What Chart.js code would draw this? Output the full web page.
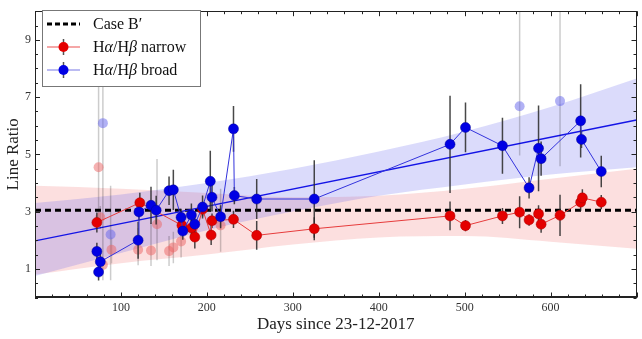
<!DOCTYPE html>
<html>
<head>
<meta charset="utf-8">
<script src="https://cdn.jsdelivr.net/npm/chart.js@4.4.1/dist/chart.umd.min.js"></script>
<style>
  html, body { margin: 0; padding: 0; background: #fff; }
  #wrap { width: 642px; height: 339px; }
</style>
</head>
<body>
<div id="wrap"><canvas id="chart" width="642" height="339"></canvas></div>
<script>
// axis range and labelled ticks
var xRange = [0, 700];
var yRange = [0, 10];
var xTickLabels = [100, 200, 300, 400, 500, 600];
var yTickLabels = [1, 3, 5, 7, 9];

// Case B' decrement
var caseB = 3.05;

// Ha/Hb narrow (used in fit)
var narrowDays  = [72, 122, 171, 182, 186, 195, 205, 206, 231, 258, 325, 483, 501, 544, 564, 575, 586, 589, 611, 635, 637, 659];
var narrowRatio = [2.62, 3.31, 2.52, 2.43, 2.11, 3.08, 2.18, 2.68, 2.73, 2.17, 2.40, 2.85, 2.51, 2.85, 2.98, 2.71, 2.92, 2.56, 2.87, 3.33, 3.48, 3.33];
var narrowErr   = [0.35, 0.35, 0.3, 0.3, 0.4, 0.25, 0.35, 0.25, 0.3, 0.5, 0.4, 0.5, 0.2, 0.28, 0.56, 0.2, 0.3, 0.3, 0.72, 0.3, 0.3, 0.25];

// Ha/Hb broad (used in fit)
var broadDays  = [72, 74, 76, 120, 121, 135, 141, 156, 161, 170, 172, 182, 186, 195, 204, 206, 216, 231, 232, 258, 325, 483, 501, 544, 575, 586, 589, 635, 636, 659];
var broadRatio = [1.61, 0.89, 1.25, 2.0, 2.99, 3.22, 3.05, 3.73, 3.76, 2.8, 2.32, 2.88, 2.56, 3.16, 4.06, 3.5, 2.82, 5.89, 3.56, 3.44, 3.44, 5.35, 5.94, 5.3, 3.83, 5.21, 4.85, 6.17, 5.52, 4.4];
var broadErr   = [0.3, 0.3, 0.3, 0.65, 0.3, 0.65, 0.5, 0.5, 0.7, 0.3, 0.3, 0.4, 0.4, 0.4, 1.07, 0.5, 0.4, 0.8, 0.3, 0.7, 1.35, 1.7, 0.87, 0.98, 0.37, 1.5, 0.6, 1.28, 0.3, 0.55];

// excluded (faded) points, error bars as low / high bounds
var fadedNarrowDays  = [74, 76, 79, 89, 120, 135, 142, 156, 161, 170, 216];
var fadedNarrowRatio = [4.55, 2.8, 1.14, 1.67, 1.67, 1.64, 2.56, 1.62, 1.75, 1.96, 2.52];
var fadedNarrowLo    = [2.55, 2.4, 0.8, 1.2, 1.13, 1.1, 1.3, 1.1, 1.2, 1.4, 1.6];
var fadedNarrowHi    = [10.5, 3.2, 1.5, 2.1, 2.43, 2.6, 4.84, 2.15, 2.3, 2.55, 3.8];
var fadedBroadDays  = [79, 88, 564, 611];
var fadedBroadRatio = [6.09, 2.2, 6.68, 6.86];
var fadedBroadLo    = [0.6, 0.6, 4.96, 4.58];
var fadedBroadHi    = [10.5, 3.9, 10.5, 10.5];

// linear fits: broad line and confidence bands
var fitDays     = [0, 700];
var broadFit    = [1.98, 6.2];
var bandDays    = [0, 100, 200, 300, 400, 500, 600, 700];
var broadBandHi = [3.3, 3.6, 4.0, 4.5, 5.1, 5.8, 6.65, 7.65];
var broadBandLo = [0.75, 1.55, 2.35, 3.0, 3.55, 3.95, 4.3, 4.55];
var narrowBandHi = [3.9, 3.8, 3.65, 3.5, 3.55, 3.8, 4.15, 4.5];
var narrowBandLo = [0.8, 1.2, 1.5, 1.85, 2.1, 2.15, 1.95, 1.7];

var RED = 'rgb(228,0,0)';
var BLUE = 'rgb(0,0,228)';
var SERIF = '"Liberation Serif", "Times New Roman", serif';

function pts(xs, ys) {
  return xs.map(function (x, i) { return { x: x, y: ys[i] }; });
}
function bars(xs, lo, hi) {
  var out = [];
  xs.forEach(function (x, i) {
    out.push({ x: x, y: lo[i] }, { x: x, y: hi[i] }, { x: x, y: null });
  });
  return out;
}
function shift(ys, err, sign) {
  return ys.map(function (y, i) { return y + sign * err[i]; });
}

Chart.defaults.font.family = SERIF;
Chart.defaults.color = '#222';

// inward ticks on all four sides plus the frame
var frameTicks = {
  id: 'frameTicks',
  afterDraw: function (chart) {
    var ctx = chart.ctx, a = chart.chartArea;
    var xs = chart.scales.x, ys = chart.scales.y;
    ctx.save();
    ctx.strokeStyle = '#222';
    ctx.lineWidth = 1;
    ctx.beginPath();
    xs.ticks.forEach(function (t) {
      var px = Math.round(xs.getPixelForValue(t.value)) + 0.5;
      var len = t.value % 100 === 0 ? 5 : 3;
      ctx.moveTo(px, a.bottom); ctx.lineTo(px, a.bottom - len);
      ctx.moveTo(px, a.top); ctx.lineTo(px, a.top + len);
    });
    ys.ticks.forEach(function (t) {
      var py = Math.round(ys.getPixelForValue(t.value)) + 0.5;
      var len = yTickLabels.indexOf(t.value) >= 0 ? 5 : 3;
      ctx.moveTo(a.left, py); ctx.lineTo(a.left + len, py);
      ctx.moveTo(a.right, py); ctx.lineTo(a.right - len, py);
    });
    ctx.stroke();
    ctx.strokeRect(Math.round(a.left) + 0.5, Math.round(a.top) + 0.5,
      Math.round(a.right - a.left) - 1, Math.round(a.bottom - a.top) - 1);
    ctx.restore();
  }
};

// legend box in the top-left corner
var legendBox = {
  id: 'legendBox',
  afterDraw: function (chart) {
    var ctx = chart.ctx;
    var x0 = 42, y0 = 10, w = 158, h = 76;
    ctx.save();
    ctx.fillStyle = '#fff';
    ctx.fillRect(x0, y0, w, h);
    ctx.strokeStyle = '#777';
    ctx.lineWidth = 1;
    ctx.strokeRect(x0 + 0.5, y0 + 0.5, w, h);

    var rows = [24, 47, 70];
    // Case B'
    ctx.strokeStyle = '#000';
    ctx.lineWidth = 3;
    ctx.setLineDash([5, 3]);
    ctx.beginPath(); ctx.moveTo(47, rows[0]); ctx.lineTo(80, rows[0]); ctx.stroke();
    ctx.setLineDash([]);

    function sample(y, line, dot) {
      ctx.strokeStyle = line; ctx.lineWidth = 1.2;
      ctx.beginPath(); ctx.moveTo(47, y); ctx.lineTo(80, y); ctx.stroke();
      ctx.strokeStyle = 'rgba(40,40,40,0.8)'; ctx.lineWidth = 1.5;
      ctx.beginPath(); ctx.moveTo(63.5, y - 8); ctx.lineTo(63.5, y + 8); ctx.stroke();
      ctx.fillStyle = dot;
      ctx.beginPath(); ctx.arc(63.5, y, 5, 0, Math.PI * 2); ctx.fill();
    }
    sample(rows[1], 'rgb(235,80,80)', RED);
    sample(rows[2], 'rgb(120,120,230)', BLUE);

    ctx.fillStyle = '#111';
    ctx.textBaseline = 'middle';
    function rich(parts, x, y) {
      parts.forEach(function (p) {
        ctx.font = (p[1] ? 'italic ' : '') + '16px ' + SERIF;
        ctx.fillText(p[0], x, y);
        x += ctx.measureText(p[0]).width;
      });
    }
    rich([['Case B\u2032', 0]], 93, rows[0] + 1);
    rich([['H', 0], ['\u03b1', 1], ['/H', 0], ['\u03b2', 1], [' narrow', 0]], 93, rows[1] + 1);
    rich([['H', 0], ['\u03b1', 1], ['/H', 0], ['\u03b2', 1], [' broad', 0]], 93, rows[2] + 1);
    ctx.restore();
  }
};

var band = { pointRadius: 0, borderWidth: 0, cubicInterpolationMode: 'monotone' };

var datasets = [
  Object.assign({ label: 'narrow band hi', data: pts(bandDays, narrowBandHi), fill: '+1',
    backgroundColor: 'rgba(240,80,80,0.18)', order: 10 }, band),
  Object.assign({ label: 'narrow band lo', data: pts(bandDays, narrowBandLo), fill: false, order: 10 }, band),
  Object.assign({ label: 'broad band hi', data: pts(bandDays, broadBandHi), fill: '+1',
    backgroundColor: 'rgba(90,90,235,0.22)', order: 9 }, band),
  Object.assign({ label: 'broad band lo', data: pts(bandDays, broadBandLo), fill: false, order: 9 }, band),
  { label: 'Case B\u2032', data: pts(xRange, [caseB, caseB]), borderColor: '#000', borderWidth: 3,
    borderDash: [6, 4], pointRadius: 0, order: 8 },
  { label: 'broad fit', data: pts(fitDays, broadFit), borderColor: 'rgb(20,20,230)', borderWidth: 1.3,
    pointRadius: 0, order: 7 },
  { label: 'faded err', data: bars(fadedNarrowDays, fadedNarrowLo, fadedNarrowHi)
      .concat(bars(fadedBroadDays, fadedBroadLo, fadedBroadHi)),
    borderColor: 'rgba(0,0,0,0.2)', borderWidth: 1.5, pointRadius: 0, spanGaps: false, order: 6 },
  { label: 'faded narrow', data: pts(fadedNarrowDays, fadedNarrowRatio), showLine: false,
    pointRadius: 5, pointBackgroundColor: 'rgba(235,100,100,0.5)', pointBorderWidth: 0, order: 5 },
  { label: 'faded broad', data: pts(fadedBroadDays, fadedBroadRatio), showLine: false,
    pointRadius: 5, pointBackgroundColor: 'rgba(100,100,235,0.5)', pointBorderWidth: 0, order: 5 },
  { label: 'narrow err', data: bars(narrowDays, shift(narrowRatio, narrowErr, -1), shift(narrowRatio, narrowErr, 1)),
    borderColor: 'rgba(40,40,40,0.85)', borderWidth: 1.5, pointRadius: 0, spanGaps: false, order: 4 },
  { label: 'broad err', data: bars(broadDays, shift(broadRatio, broadErr, -1), shift(broadRatio, broadErr, 1)),
    borderColor: 'rgba(40,40,40,0.85)', borderWidth: 1.5, pointRadius: 0, spanGaps: false, order: 4 },
  { label: 'H\u03b1/H\u03b2 narrow', data: pts(narrowDays, narrowRatio), borderColor: 'rgb(230,60,60)',
    borderWidth: 1, pointRadius: 5, pointBackgroundColor: RED, pointBorderColor: 'rgb(170,0,0)',
    pointBorderWidth: 0.5, order: 3 },
  { label: 'H\u03b1/H\u03b2 broad', data: pts(broadDays, broadRatio), borderColor: 'rgb(50,50,220)',
    borderWidth: 1, pointRadius: 5, pointBackgroundColor: BLUE, pointBorderColor: 'rgb(0,0,150)',
    pointBorderWidth: 0.5, order: 2 }
];

new Chart(document.getElementById('chart'), {
  type: 'scatter',
  data: { datasets: datasets.map(function (d) { d.showLine = d.showLine !== false; return d; }) },
  options: {
    responsive: false,
    animation: false,
    events: [],
    layout: { padding: { top: 3, right: 1, left: 0, bottom: 0 } },
    plugins: { legend: { display: false }, tooltip: { enabled: false } },
    scales: {
      x: {
        type: 'linear', min: xRange[0], max: xRange[1], offset: false,
        grid: { display: false, drawTicks: false },
        border: { display: true, color: '#222' },
        ticks: {
          stepSize: 20, autoSkip: false, maxRotation: 0, padding: 3,
          font: { size: 12 }, color: '#333',
          callback: function (v) { return xTickLabels.indexOf(v) >= 0 ? String(v) : ''; }
        },
        title: { display: true, text: 'Days since 23-12-2017', font: { size: 17 }, color: '#222',
          padding: { top: 0, bottom: 4 } },
        afterFit: function (s) { s.height = 41.5; }
      },
      y: {
        type: 'linear', min: yRange[0], max: yRange[1],
        grid: { display: false, drawTicks: false },
        border: { display: true, color: '#222' },
        ticks: {
          stepSize: 0.5, autoSkip: false, padding: 4,
          font: { size: 12 }, color: '#333',
          callback: function (v) { return yTickLabels.indexOf(v) >= 0 ? String(v) : ''; }
        },
        title: { display: true, text: 'Line Ratio', font: { size: 17 }, color: '#222',
          padding: { top: 3, bottom: 0 } },
        afterFit: function (s) { s.width = 35; }
      }
    }
  },
  plugins: [frameTicks, legendBox]
});
</script>
</body>
</html>
